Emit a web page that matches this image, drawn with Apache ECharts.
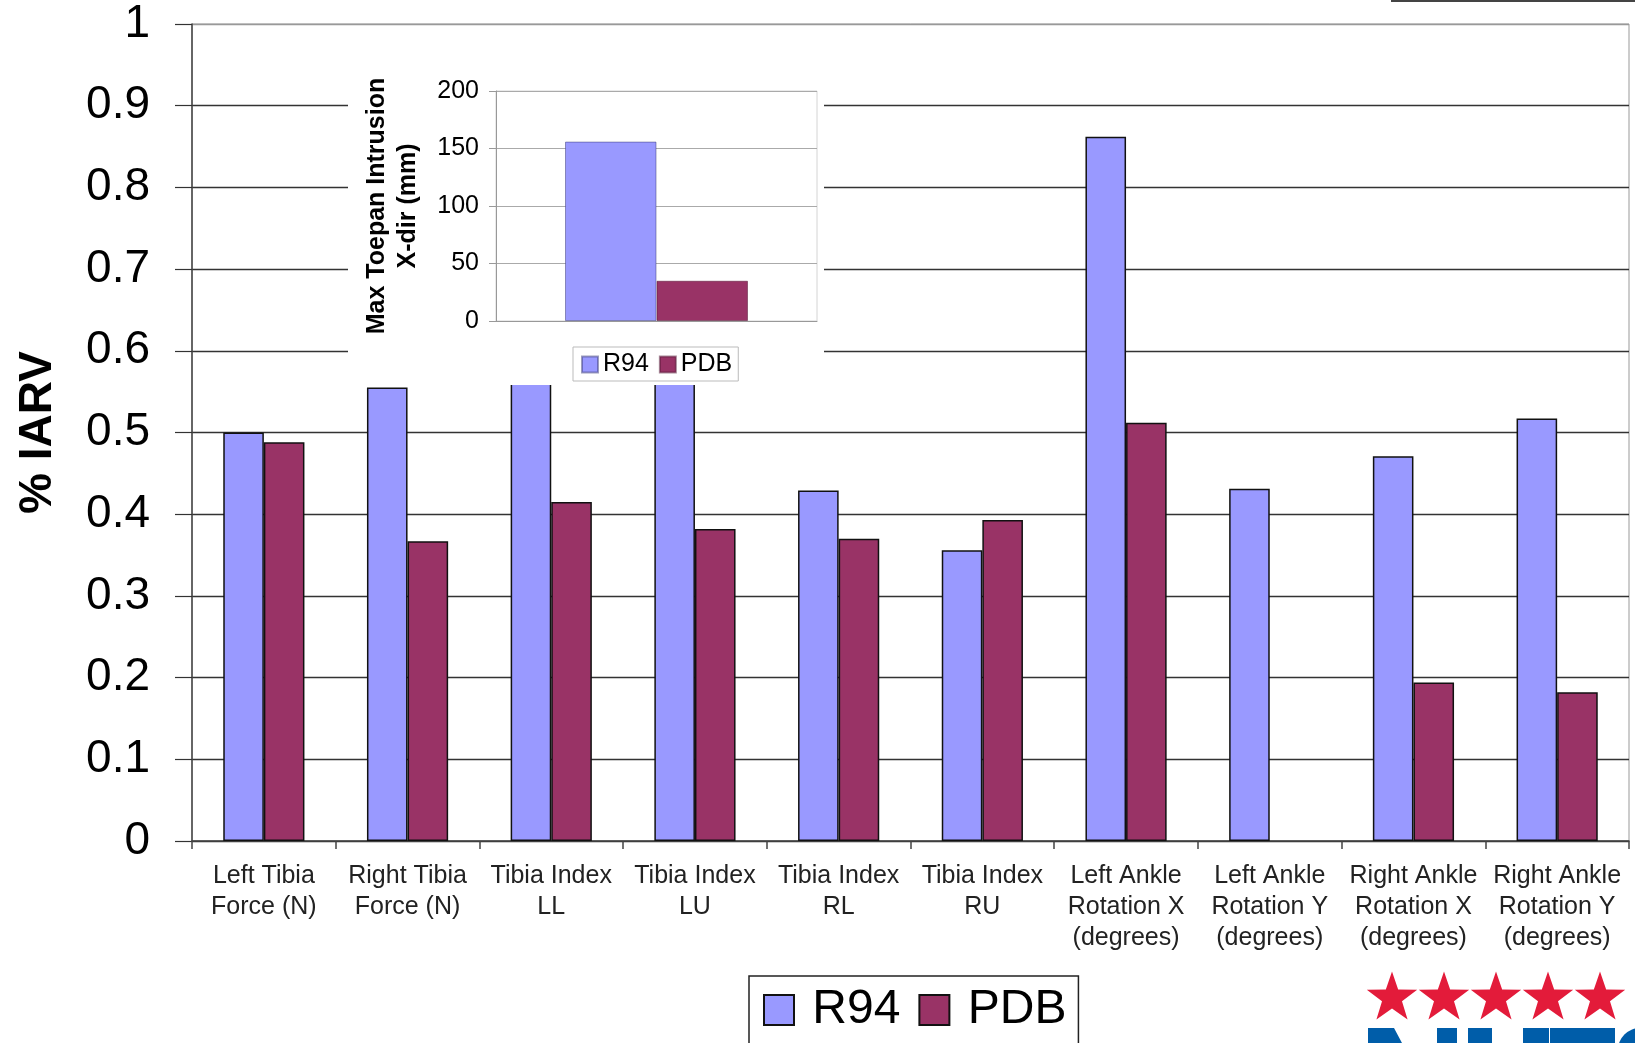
<!DOCTYPE html>
<html>
<head>
<meta charset="utf-8">
<script src="https://cdn.jsdelivr.net/npm/echarts@6/dist/echarts.min.js"></script>
<style>
html,body{margin:0;padding:0;background:#fff;overflow:hidden;}
#main{position:absolute;left:0;top:0;width:1635px;height:1043px;}
#inset{position:absolute;left:348px;top:60px;width:476px;height:325px;background:#fff;z-index:2;}
</style>
</head>
<body>
<div id="main"></div>
<div id="inset"></div>
<script>
// ---- main chart data ----
const categories = [
  'Left Tibia\nForce (N)', 'Right Tibia\nForce (N)', 'Tibia Index\nLL', 'Tibia Index\nLU',
  'Tibia Index\nRL', 'Tibia Index\nRU', 'Left Ankle\nRotation X\n(degrees)',
  'Left Ankle\nRotation Y\n(degrees)', 'Right Ankle\nRotation X\n(degrees)', 'Right Ankle\nRotation Y\n(degrees)'
];
const seriesNames = ['R94', 'PDB'];
const r94Values = [0.500, 0.555, 0.620, 0.600, 0.429, 0.356, 0.862, 0.431, 0.471, 0.517];
const pdbValues = [0.488, 0.367, 0.415, 0.382, 0.370, 0.393, 0.512, null, 0.194, 0.182];
const yAxisTitle = '% IARV';

// ---- inset chart data ----
const insetCategories = ['Max Toepan Intrusion X-dir'];
const insetR94 = [156];
const insetPdb = [35];
const insetAxisTitle = 'Max Toepan Intrusion\nX-dir (mm)';

const colors = { R94: '#9999FF', PDB: '#993366' };
const FONT = '"Liberation Sans", Arial, sans-serif';

// stars decoration
function starPoints(cx, cy, R, r) {
  const pts = [];
  for (let i = 0; i < 10; i++) {
    const rad = (i % 2 === 0) ? R : r;
    const a = -Math.PI / 2 + i * Math.PI / 5;
    pts.push([cx + rad * Math.cos(a), cy + rad * Math.sin(a)]);
  }
  return pts;
}
const starCenters = [1392, 1444, 1496, 1548, 1600];
const graphics = starCenters.map(cx => ({
  type: 'polygon', shape: { points: starPoints(cx, 998, 26.5, 10.5) },
  style: { fill: '#E31B3A' }, z: 100
}));
// partial blue logo at bottom
graphics.push(
  { type: 'polygon', shape: { points: [[1368, 1028], [1394, 1028], [1402, 1043], [1368, 1043]] }, style: { fill: '#005DA9' }, z: 100 },
  { type: 'rect', shape: { x: 1437, y: 1028, width: 20, height: 15 }, style: { fill: '#005DA9' }, z: 100 },
  { type: 'rect', shape: { x: 1468, y: 1028, width: 24, height: 15 }, style: { fill: '#005DA9' }, z: 100 },
  { type: 'rect', shape: { x: 1523, y: 1028, width: 26, height: 15 }, style: { fill: '#005DA9' }, z: 100 },
  { type: 'rect', shape: { x: 1550, y: 1028, width: 65, height: 15 }, style: { fill: '#005DA9' }, z: 100 },
  { type: 'circle', shape: { cx: 1640, cy: 1050, r: 22 }, style: { fill: '#005DA9' }, z: 100 },
  { type: 'line', shape: { x1: 1391, y1: 1, x2: 1635, y2: 1 }, style: { stroke: '#444', lineWidth: 2 }, z: 100 }
);

const gridColors = [];
for (let i = 0; i < 10; i++) gridColors.push('#333');
gridColors.push('#999');

const main = echarts.init(document.getElementById('main'), null, { renderer: 'canvas' });
main.setOption({
  animation: false,
  backgroundColor: '#fff',
  textStyle: { fontFamily: FONT },
  grid: { left: 192, right: 6, top: 24, bottom: 202, show: true, borderColor: '#999', borderWidth: 1, backgroundColor: 'transparent' },
  legend: {
    data: seriesNames, left: 749, top: 976, orient: 'horizontal', icon: 'rect',
    itemWidth: 30, itemHeight: 30, itemGap: 18,
    formatter: ' {name}',
    textStyle: { fontSize: 48, color: '#000', fontFamily: FONT },
    borderColor: '#222', borderWidth: 1.5, padding: [10, 12, 40, 14], backgroundColor: '#fff'
  },
  xAxis: {
    type: 'category', data: categories,
    axisLine: { lineStyle: { color: '#444', width: 1.5 } },
    axisTick: { show: true, length: 8, lineStyle: { color: '#444', width: 1.5 } },
    axisLabel: { interval: 0, fontSize: 25, lineHeight: 31, color: '#222', margin: 20, fontFamily: FONT },
    splitLine: { show: false }
  },
  yAxis: {
    type: 'value', min: 0, max: 1, interval: 0.1,
    name: yAxisTitle, nameLocation: 'middle', nameRotate: 90, nameGap: 131,
    nameTextStyle: { fontSize: 46, fontWeight: 'bold', color: '#000', fontFamily: FONT },
    axisLine: { show: true, lineStyle: { color: '#444', width: 1.5 } },
    axisTick: { show: true, length: 17, lineStyle: { color: '#333', width: 1.2 } },
    axisLabel: { fontSize: 46, color: '#000', margin: 42, fontFamily: FONT },
    splitLine: { show: true, lineStyle: { color: gridColors, width: 1.3 } }
  },
  series: [
    { name: 'R94', type: 'bar', data: r94Values, barGap: '0%', barCategoryGap: '43.5%',
      itemStyle: { color: colors.R94, borderColor: '#111', borderWidth: 1.5 } },
    { name: 'PDB', type: 'bar', data: pdbValues, barGap: '0%', barCategoryGap: '43.5%',
      itemStyle: { color: colors.PDB, borderColor: '#111', borderWidth: 1.5 } }
  ],
  graphic: graphics
});

const inset = echarts.init(document.getElementById('inset'), null, { renderer: 'canvas' });
inset.setOption({
  animation: false,
  backgroundColor: '#fff',
  textStyle: { fontFamily: FONT },
  grid: { left: 148, right: 7, top: 31, bottom: 64, show: true, borderColor: '#d4d4d4', borderWidth: 1 },
  legend: {
    data: seriesNames, left: 225, top: 287, icon: 'rect',
    itemWidth: 16, itemHeight: 16, itemGap: 10,
    textStyle: { fontSize: 25, color: '#000', fontFamily: FONT },
    borderColor: '#bbb', borderWidth: 1, padding: [5, 6, 4, 8]
  },
  xAxis: {
    type: 'category', data: insetCategories,
    axisLine: { lineStyle: { color: '#999', width: 1 } },
    axisTick: { show: false }, axisLabel: { show: false }
  },
  yAxis: {
    type: 'value', min: 0, max: 200, interval: 50,
    name: insetAxisTitle, nameLocation: 'middle', nameRotate: 90, nameGap: 72,
    nameTextStyle: { fontSize: 25, fontWeight: 'bold', color: '#000', lineHeight: 31, fontFamily: FONT },
    axisLine: { show: true, lineStyle: { color: '#999', width: 1 } },
    axisTick: { show: true, length: 7, lineStyle: { color: '#999' } },
    axisLabel: { fontSize: 25, color: '#000', margin: 17, fontFamily: FONT },
    splitLine: { show: true, lineStyle: { color: '#aaa', width: 1 } }
  },
  series: [
    { name: 'R94', type: 'bar', data: insetR94, barGap: '0%', barCategoryGap: '43%',
      itemStyle: { color: colors.R94, borderColor: 'rgba(60,60,120,0.5)', borderWidth: 1 } },
    { name: 'PDB', type: 'bar', data: insetPdb, barGap: '0%', barCategoryGap: '43%',
      itemStyle: { color: colors.PDB, borderColor: 'rgba(80,20,50,0.5)', borderWidth: 1 } }
  ]
});
</script>
</body>
</html>
